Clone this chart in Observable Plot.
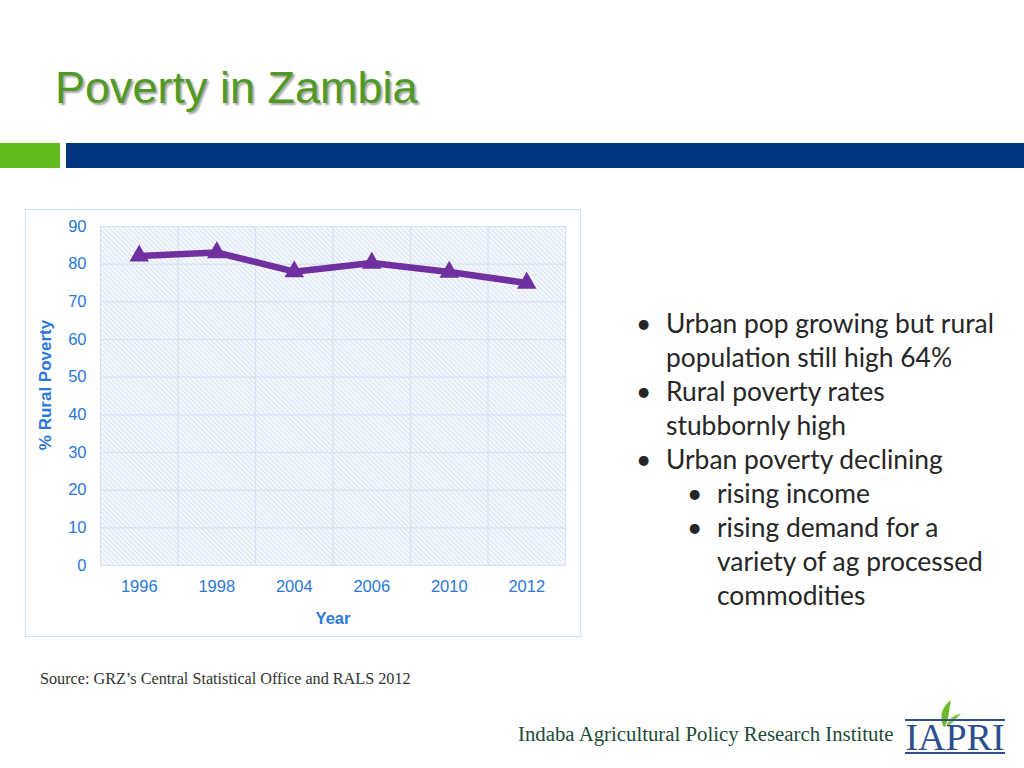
<!DOCTYPE html>
<html><head><meta charset="utf-8">
<script src="https://cdn.jsdelivr.net/npm/d3@7"></script>
<script src="https://cdn.jsdelivr.net/npm/@observablehq/plot@0.6"></script>
<style>
html,body{margin:0;padding:0;background:#fff;width:1024px;height:768px;overflow:hidden;position:relative;font-family:"Liberation Sans",Arial,sans-serif;}
#title{position:absolute;left:55px;top:62px;font-size:45px;color:#4f9a25;text-shadow:2px 2px 2px rgba(0,0,0,0.35);font-family:"Liberation Sans",Arial,sans-serif;}
#barG{position:absolute;left:0;top:143px;width:60px;height:25px;background:#62bb1e;}
#barB{position:absolute;left:66px;top:143px;width:958px;height:25px;background:#003580;}
#chartbox{position:absolute;left:25px;top:209px;width:554px;height:426px;border:1px solid #cfe0f3;}
#chart{position:absolute;left:25px;top:209px;}
#bullets{position:absolute;left:636px;top:306px;font-family:Lato,"Open Sans",sans-serif;font-size:26.4px;line-height:34px;color:#262626;}
.b{position:relative;padding-left:30px;}
.b:before{content:"•";position:absolute;left:0;}
.s{position:relative;padding-left:81px;}
.s:before{content:"•";position:absolute;left:51px;}
#source{position:absolute;left:40px;top:670px;font-family:"Liberation Serif",serif;font-size:16.2px;color:#333;}
#inst{position:absolute;left:518px;top:722px;font-family:"Liberation Serif",serif;font-size:20.8px;color:#1e4a38;}
#logo{position:absolute;left:903px;top:700px;}
</style></head>
<body>
<div id="title">Poverty in Zambia</div>
<div id="barG"></div><div id="barB"></div>
<div id="chartbox"></div>
<div id="chart"></div>
<div id="bullets">
<div class="b">Urban pop growing but rural<br>population still high 64%</div>
<div class="b">Rural poverty rates<br>stubbornly high</div>
<div class="b">Urban poverty declining</div>
<div class="s">rising income</div>
<div class="s">rising demand for a<br>variety of ag processed<br>commodities</div>
</div>
<div id="source">Source: GRZ’s Central Statistical Office and RALS 2012</div>
<div id="inst">Indaba Agricultural Policy Research Institute</div>
<svg id="logo" width="105" height="58">
  <path d="M40,26 C36,14 40,6 48,0 C46,10 46,18 42,27 Z" fill="#6dbb2a"/>
  <path d="M44,24 C48,16 54,14 58,14 C54,18 50,22 45,27 Z" fill="#8cc63f"/>
  <rect x="2" y="19" width="100" height="2" fill="#2b4f8f"/>
  <rect x="2" y="52" width="100" height="2" fill="#2b4f8f"/>
  <text x="52" y="50" text-anchor="middle" font-family="Liberation Serif,serif" font-size="38" fill="#2b4f8f">IAPRI</text>
</svg>
<script>
const years = ["1996","1998","2004","2006","2010","2012"];
const ruralPoverty = [82.2, 83.1, 78.0, 80.3, 77.9, 75.0];
const yTicks = [0,10,20,30,40,50,60,70,80,90];

const data = years.map((y,i)=>({i:i+0.5, year:y, v:ruralPoverty[i]}));
const edges = d3.range(0, years.length+1);
const axisColor = "#2a78da";

const plot = Plot.plot({
  width: 555, height: 427,
  marginLeft: 75, marginRight: 15, marginTop: 17, marginBottom: 71,
  style: {fontFamily: '"Liberation Sans", Arial, sans-serif', fontSize: "16.5px", color: axisColor, background: "transparent"},
  x: {type: "linear", domain: [0, years.length], ticks: data.map(d=>d.i), tickFormat: (d)=>years[Math.floor(d)], tickSize: 0, tickPadding: 15, label: "Year", labelArrow: "none", labelAnchor: "center", labelOffset: 58},
  y: {domain: [0, 90], ticks: yTicks, tickSize: 0, tickPadding: 14, label: "% Rural Poverty", labelArrow: "none", labelAnchor: "center", labelOffset: 62},
  marks: [
    Plot.frame({fill: "url(#hatch)", stroke: "none"}),
    Plot.gridY(yTicks, {stroke: "#d4e2f4", strokeOpacity: 1, strokeWidth: 1.2}),
    Plot.ruleX(edges, {stroke: "#d4e2f4", strokeWidth: 1.2}),
    Plot.line(data, {x: "i", y: "v", stroke: "#7030a0", strokeWidth: 6.5, strokeLinejoin: "miter"}),
    Plot.dot(data, {x: "i", y: "v", symbol: "triangle", r: 6.3, fill: "#7030a0", stroke: "#7030a0", strokeWidth: 1.5})
  ]
});
const svgns = "http://www.w3.org/2000/svg";
const defs = document.createElementNS(svgns, "defs");
defs.innerHTML = '<pattern id="hatch" width="3.5" height="3.5" patternUnits="userSpaceOnUse" patternTransform="rotate(-45)"><rect width="3.5" height="3.5" fill="#f4f8fd"/><line x1="0" y1="0" x2="0" y2="3.5" stroke="#c9d9ef" stroke-width="1.3"/></pattern>';
plot.insertBefore(defs, plot.firstChild);
plot.querySelectorAll('[aria-label="x-axis label"] text, [aria-label="y-axis label"] text').forEach(t=>{
  t.textContent = t.textContent.replace(/[\u2190-\u2193]/g, "").trim();
  t.setAttribute("font-weight","bold"); t.setAttribute("font-size","16.5px");
});
const yl = plot.querySelector('[aria-label="y-axis label"]');
if (yl) { const tr = yl.getAttribute("transform") || ""; yl.setAttribute("transform", tr + " translate(0,-11)"); yl.querySelectorAll("text").forEach(t=>t.setAttribute("font-size","17px")); }
document.getElementById("chart").appendChild(plot);
</script>
</body></html>
